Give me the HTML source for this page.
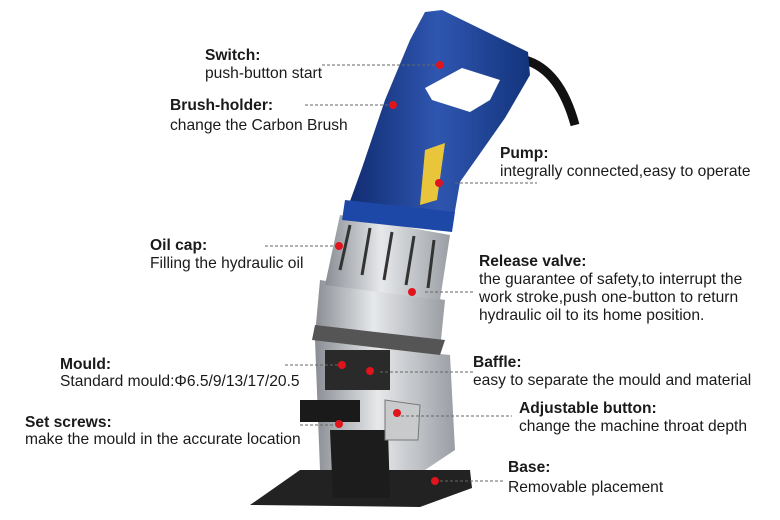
<!DOCTYPE html>
<html><head><meta charset="utf-8"><style>
html,body{margin:0;padding:0;background:#fff;width:780px;height:520px;overflow:hidden}
text{font-family:"Liberation Sans",Arial,sans-serif;font-size:15.6px;fill:#1a1a1a}
.b{font-weight:bold}
</style></head><body>
<svg width="780" height="520" viewBox="0 0 780 520">
<defs>
<linearGradient id="bl" x1="0" x2="1"><stop offset="0" stop-color="#0f2a6e"/><stop offset=".5" stop-color="#2f56b0"/><stop offset="1" stop-color="#13347c"/></linearGradient>
<linearGradient id="sv" x1="0" x2="1"><stop offset="0" stop-color="#8a8e94"/><stop offset=".45" stop-color="#e6e8ea"/><stop offset="1" stop-color="#9a9ea4"/></linearGradient>
</defs>
<path d="M525 60 Q560 70 575 125" stroke="#111" stroke-width="9" fill="none"/>
<polygon points="250,505 300,470 470,470 472,488 420,507" fill="#222"/>
<polygon points="315,340 450,355 455,450 425,470 320,470" fill="url(#sv)"/>
<polygon points="330,430 388,430 390,498 333,498" fill="#1c1c1c"/>
<rect x="300" y="400" width="60" height="22" fill="#1a1a1a"/>
<rect x="325" y="350" width="65" height="40" fill="#2a2a2a"/>
<polygon points="385,400 420,405 418,440 385,440" fill="#c8cacc" stroke="#777"/>
<polygon points="320,280 445,300 440,350 315,335" fill="url(#sv)"/>
<polygon points="315,325 445,340 440,355 312,340" fill="#555"/>
<polygon points="340,215 450,235 440,300 325,285" fill="url(#sv)"/>
<g stroke="#333" stroke-width="3"><line x1="350" y1="225" x2="340" y2="270"/><line x1="370" y1="228" x2="362" y2="275"/><line x1="392" y1="232" x2="384" y2="280"/><line x1="414" y1="236" x2="406" y2="285"/><line x1="434" y1="240" x2="428" y2="288"/></g>
<polygon points="425,12 442,10 528,52 530,75 505,118 460,182 452,228 345,215 362,168 385,100 410,40" fill="url(#bl)"/>
<polygon points="425,88 462,68 500,80 490,100 470,112 432,100" fill="#fff"/>
<polygon points="345,200 455,212 452,232 342,220" fill="#1e48a8"/>
<polygon points="425,150 445,143 437,200 420,205" fill="#e8c53a"/>
<g fill="#e0141c">
<circle cx="440" cy="65" r="4"/><circle cx="393" cy="105" r="4"/><circle cx="439" cy="183" r="4"/><circle cx="339" cy="246" r="4"/><circle cx="412" cy="292" r="4"/><circle cx="342" cy="365" r="4"/><circle cx="370" cy="371" r="4"/><circle cx="339" cy="424" r="4"/><circle cx="397" cy="413" r="4"/><circle cx="435" cy="481" r="4"/>
</g>
<g stroke="#666" stroke-width="1" stroke-dasharray="3,2">
<line x1="322" y1="65" x2="436" y2="65"/><line x1="305" y1="105" x2="389" y2="105"/><line x1="455" y1="183" x2="537" y2="183"/><line x1="265" y1="246" x2="335" y2="246"/><line x1="425" y1="292" x2="475" y2="292"/><line x1="285" y1="365" x2="338" y2="365"/><line x1="380" y1="372" x2="475" y2="372"/><line x1="300" y1="425" x2="335" y2="425"/><line x1="401" y1="416" x2="512" y2="416"/><line x1="440" y1="481" x2="505" y2="481"/>
</g>
<text x="205" y="60" class="b">Switch:</text><text x="205" y="78">push-button start</text>
<text x="170" y="110" class="b">Brush-holder:</text><text x="170" y="130">change the Carbon Brush</text>
<text x="500" y="158" class="b">Pump:</text><text x="500" y="176">integrally connected,easy to operate</text>
<text x="150" y="250" class="b">Oil cap:</text><text x="150" y="268">Filling the hydraulic oil</text>
<text x="479" y="266" class="b">Release valve:</text><text x="479" y="284">the guarantee of safety,to interrupt the</text><text x="479" y="302">work stroke,push one-button to return</text><text x="479" y="320">hydraulic oil to its home position.</text>
<text x="60" y="369" class="b">Mould:</text><text x="60" y="386">Standard mould:Φ6.5/9/13/17/20.5</text>
<text x="473" y="367" class="b">Baffle:</text><text x="473" y="385">easy to separate the mould and material</text>
<text x="25" y="427" class="b">Set screws:</text><text x="25" y="444">make the mould in the accurate location</text>
<text x="519" y="413" class="b">Adjustable button:</text><text x="519" y="431">change the machine throat depth</text>
<text x="508" y="472" class="b">Base:</text><text x="508" y="492">Removable placement</text>
</svg>
</body></html>
